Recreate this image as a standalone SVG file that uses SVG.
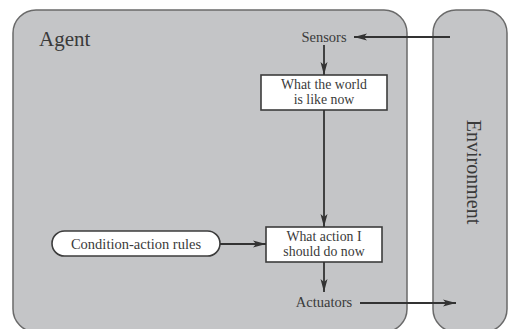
<svg xmlns="http://www.w3.org/2000/svg" width="508" height="329" viewBox="0 0 508 329">
<style>
.panel{fill:#c4c5c7;stroke:#6a6a6a;stroke-width:1.5}
.box{fill:#ffffff;stroke:#3c3c3c;stroke-width:1.6}
.t{font-family:"Liberation Serif","Times New Roman",serif;fill:#3a3a3a;font-size:14.5px;text-anchor:middle}
.s{font-size:13.8px}
.edge{stroke:#333333;stroke-width:1.8;fill:none;marker-end:url(#ah)}
</style>
<defs>
<marker id="ah" markerUnits="userSpaceOnUse" markerWidth="14" markerHeight="8" refX="13" refY="4" orient="auto">
<path d="M0,0.5 L13,4 L0,7.5 L3,4 Z" fill="#333333"/>
</marker>
</defs>
<rect width="508" height="329" fill="#ffffff"/>
<g id="agent">
<rect class="panel" x="13" y="10" width="394" height="322" rx="23" ry="23"/>
<text x="39" y="46" class="t" style="font-size:21px;text-anchor:start">Agent</text>
</g>
<g id="environment">
<rect class="panel" x="433" y="10" width="74" height="322" rx="23" ry="23"/>
<text class="t" transform="translate(467,172) rotate(90)" style="font-size:20px">Environment</text>
</g>
<g id="sensors">
<text x="324" y="42" class="t">Sensors</text>
</g>
<g id="world">
<rect class="box" x="261" y="75" width="126" height="35"/>
<text x="324" y="89" class="t s">What the world</text>
<text x="324" y="104" class="t s">is like now</text>
</g>
<g id="action">
<rect class="box" x="266" y="227" width="116" height="35"/>
<text x="324" y="241" class="t s">What action I</text>
<text x="324" y="256" class="t s">should do now</text>
</g>
<g id="rules">
<rect class="box" x="52" y="231" width="168" height="25" rx="12.5" ry="12.5"/>
<text x="136" y="249" class="t">Condition-action rules</text>
</g>
<g id="actuators">
<text x="324" y="307" class="t">Actuators</text>
</g>
<g id="connectors">
<line class="edge" x1="450" y1="37" x2="354" y2="37"/>
<line class="edge" x1="324" y1="45" x2="324" y2="75"/>
<line class="edge" x1="324" y1="110" x2="324" y2="227"/>
<line class="edge" x1="220" y1="244" x2="266" y2="244"/>
<line class="edge" x1="324" y1="262" x2="324" y2="292"/>
<line class="edge" x1="360" y1="303" x2="456" y2="303"/>
</g>
</svg>
